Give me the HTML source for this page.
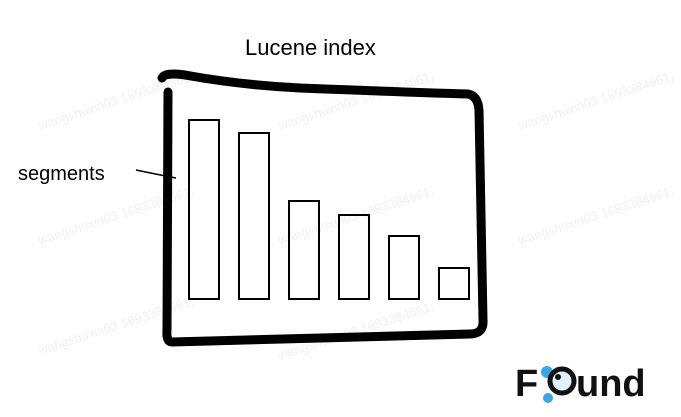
<!DOCTYPE html>
<html><head><meta charset="utf-8"><style>
html,body{margin:0;padding:0;background:#fff;width:681px;height:417px;overflow:hidden}
svg{display:block}
</style></head><body>
<svg id="chart" width="681" height="417" viewBox="0 0 681 417">
<g font-family="'Liberation Sans',sans-serif" font-size="13" fill="#f0f0f0">
<text x="40" y="130" transform="rotate(-18 40 130)">wangshuxin03 1693384661,</text>
<text x="280" y="130" transform="rotate(-18 280 130)">wangshuxin03 1693384661,</text>
<text x="520" y="130" transform="rotate(-18 520 130)">wangshuxin03 1693384661,</text>
<text x="40" y="245" transform="rotate(-18 40 245)">wangshuxin03 1693384661,</text>
<text x="280" y="245" transform="rotate(-18 280 245)">wangshuxin03 1693384661,</text>
<text x="520" y="245" transform="rotate(-18 520 245)">wangshuxin03 1693384661,</text>
<text x="40" y="355" transform="rotate(-18 40 355)">wangshuxin03 1693384661,</text>
<text x="280" y="360" transform="rotate(-18 280 360)">wangshuxin03 1693384661,</text>
</g>
<text x="245" y="55" font-family="'Liberation Sans',sans-serif" font-size="22" fill="#000">Lucene index</text>
<text x="18" y="180" font-family="'Liberation Sans',sans-serif" font-size="20" fill="#000">segments</text>
<path d="M136,170 Q155,174 176,178" stroke="#000" stroke-width="1.5" fill="none"/>
<path d="M162,78 Q165,72 185,75 Q240,85 300,88 Q400,92 468,94 Q478,96 479,110 L483,320 Q484,334 470,334 Q320,338 172,342 Q166,342 167,330 L168,92" stroke="#000" stroke-width="9" fill="none" stroke-linecap="round" stroke-linejoin="round"/>
<g id="bars"></g>
<g>
<text x="515" y="396" font-family="'Liberation Sans',sans-serif" font-weight="bold" font-size="38" fill="#111">F</text>
<circle cx="547" cy="372" r="6" fill="#3aa7e6"/>
<circle cx="548" cy="398" r="5" fill="#3aa7e6"/>
<circle cx="562" cy="381" r="12" fill="#dff1fb" stroke="#111" stroke-width="5"/>
<circle cx="558" cy="377" r="3" fill="#111"/>
<text x="576" y="396" font-family="'Liberation Sans',sans-serif" font-weight="bold" font-size="38" fill="#111">und</text>
</g>
</svg>
<script>
const categories = ["seg1","seg2","seg3","seg4","seg5","seg6"];
const values = [179,166,98,84,63,31];
const baseY = 299, xStart = 189, step = 50, barW = 30;
function xPos(i){ return xStart + i*step; }
function yPos(v){ return baseY - v; }
const g = document.getElementById('bars');
values.forEach((v,i)=>{
  const r = document.createElementNS('http://www.w3.org/2000/svg','rect');
  r.setAttribute('x', xPos(i));
  r.setAttribute('y', yPos(v));
  r.setAttribute('width', barW);
  r.setAttribute('height', v);
  r.setAttribute('fill', 'none');
  r.setAttribute('stroke', '#000');
  r.setAttribute('stroke-width', '2');
  
  
  g.appendChild(r);
});
</script>
</body></html>
